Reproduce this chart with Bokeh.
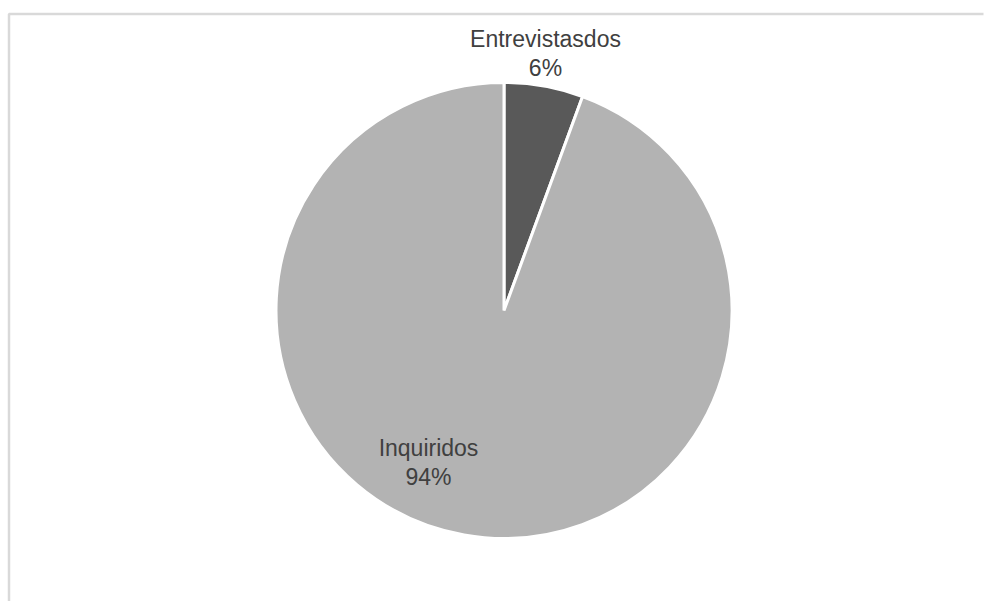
import numpy as np
from bokeh.plotting import figure
from bokeh.models import ColumnDataSource, Range1d
from bokeh.core.properties import value
from bokeh.embed import file_html
from bokeh.resources import INLINE

# ---- data ----
categories = ["Entrevistasdos", "Inquiridos"]
shares = [5.6, 94.4]
pct_labels = ["6%", "94%"]
colors = ["#595959", "#b3b3b3"]

W, H = 984, 601
p = figure(width=W, height=H, output_backend="svg", toolbar_location=None,
           x_range=Range1d(0, W), y_range=Range1d(0, H),
           min_border=0, outline_line_color=None)
p.axis.visible = False
p.grid.visible = False
p.background_fill_color = "white"
p.border_fill_color = "white"

# chart-area frame (left and top edges visible)
p.line(x=[8.5, 8.5, 983], y=[0, H - 13.5, H - 13.5], line_color="#d9d9d9", line_width=2.5)

# pie
cx, cy, r = 503.5, H - 310, 228
frac = np.array(shares) / np.sum(shares)
cum = np.concatenate([[0], np.cumsum(frac)])
start = np.pi / 2 - cum[:-1] * 2 * np.pi
end = np.pi / 2 - cum[1:] * 2 * np.pi
src = ColumnDataSource(dict(cat=categories, start=start, end=end, color=colors))
p.wedge(x=cx, y=cy, radius=r, start_angle="start", end_angle="end", direction="clock",
        fill_color="color", line_color="white", line_width=3, source=src)

# data labels
label_pos = [(545, H - 53), (428, H - 462)]
lsrc = ColumnDataSource(dict(
    x=[lp[0] for lp in label_pos], y=[lp[1] for lp in label_pos],
    text=[f"{c}\n{pl}" for c, pl in zip(categories, pct_labels)]))
p.text(x="x", y="y", text="text", source=lsrc, text_align="center", text_baseline="middle",
       text_font=value("Liberation Sans"), text_font_size="23px", text_color="#404040",
       text_line_height=1.13)

open("out.html", "w").write(file_html(p, INLINE))
